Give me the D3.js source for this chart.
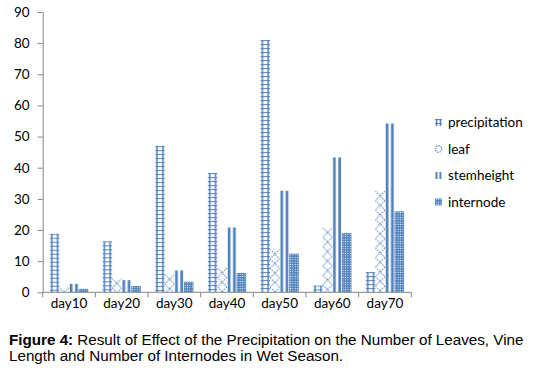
<!DOCTYPE html>
<html><head><meta charset="utf-8">
<script src="https://cdn.jsdelivr.net/npm/d3@7/dist/d3.min.js"></script>
<style>
body{margin:0;background:#fff;}
svg{display:block;}
</style></head>
<body>
<svg id="chart" width="537" height="371"></svg>
<script>
const categories = ["day10","day20","day30","day40","day50","day60","day70"];
const seriesNames = ["precipitation","leaf","stemheight","internode"];
const precipitation = [18.8, 16.4, 47.0, 38.3, 81.0, 2.2, 6.5];
const leaf = [1.5, 4.4, 5.7, 7.8, 13.8, 20.7, 32.5];
const stemheight = [2.7, 3.9, 7.0, 20.8, 32.6, 43.3, 54.2];
const internode = [1.1, 2.0, 3.4, 6.2, 12.4, 19.0, 26.0];
const yTicks = [0,10,20,30,40,50,60,70,80,90];

const values = [precipitation, leaf, stemheight, internode];
const blue = "#4F81BD";
const svg = d3.select("#chart");
const m = {left:42.7, right:411.3, top:12, bottom:292.3};
const x0 = d3.scaleBand().domain(categories).range([m.left, m.right]).paddingInner(0);
// Excel gap width 150%
const x1 = d3.scaleBand().domain(seriesNames).range([0, x0.bandwidth()]).paddingInner(0).paddingOuter(0.75);
const y = d3.scaleLinear().domain([0,90]).range([m.bottom, m.top]);
const w = x1.bandwidth();

const defs = svg.append("defs");
function makePatterns(suffix, bw){
  // precipitation: ladder
  let p = defs.append("pattern").attr("id","p0"+suffix).attr("patternUnits","userSpaceOnUse")
    .attr("width", bw).attr("height", 4);
  p.append("rect").attr("x",0).attr("y",0).attr("width",bw).attr("height",4).attr("fill","#fff");
  p.append("rect").attr("x",bw*0.12).attr("y",0).attr("width",1.5).attr("height",4).attr("fill",blue);
  p.append("rect").attr("x",bw*0.88-1.5).attr("y",0).attr("width",1.5).attr("height",4).attr("fill",blue);
  p.append("rect").attr("x",0).attr("y",0).attr("width",bw).attr("height",1.1).attr("fill",blue).attr("opacity",0.9);
  // leaf: dotted crosses
  p = defs.append("pattern").attr("id","p1"+suffix).attr("patternUnits","userSpaceOnUse")
    .attr("width", bw).attr("height", 9.5);
  p.append("rect").attr("width",bw).attr("height",9.5).attr("fill","#fff");
  p.append("path").attr("d",`M0,0L${bw},9.5M${bw},0L0,9.5`).attr("stroke","#5b8ac6")
    .attr("stroke-width",1).attr("stroke-dasharray","1.5,1").attr("fill","none");
  // stemheight: two wide stripes
  p = defs.append("pattern").attr("id","p2"+suffix).attr("patternUnits","userSpaceOnUse")
    .attr("width", bw).attr("height", 4);
  p.append("rect").attr("width",bw).attr("height",4).attr("fill","#fff");
  p.append("rect").attr("x",bw*0.08).attr("width",bw*0.28).attr("height",4).attr("fill",blue);
  p.append("rect").attr("x",bw*0.63).attr("width",bw*0.28).attr("height",4).attr("fill",blue);
  // internode: blue with white dots
  p = defs.append("pattern").attr("id","p3"+suffix).attr("patternUnits","userSpaceOnUse")
    .attr("width", 2.4).attr("height", 2.4);
  p.append("rect").attr("width",2.4).attr("height",2.4).attr("fill",blue);
  p.append("rect").attr("x",0.7).attr("y",0.7).attr("width",1).attr("height",1).attr("fill","#fff");
}
makePatterns("", w);
makePatterns("L", 7);

// bars
const groups = svg.append("g").selectAll("g.cat").data(categories).join("g")
  .attr("class","cat").attr("transform", d => `translate(${x0(d)},0)`);
seriesNames.forEach((s, si) => {
  groups.append("g")
    .attr("transform", (d,i) => `translate(${x1(s)},${y(values[si][i])})`)
    .append("rect")
    .attr("x",0).attr("y",0).attr("width", w)
    .attr("height", (d,i) => y(0) - y(values[si][i]))
    .attr("fill", `url(#p${si})`);
});

// y axis
const yAxis = d3.axisLeft(y).tickValues(yTicks).tickSize(5).tickSizeOuter(0).tickPadding(8);
const gy = svg.append("g").attr("transform",`translate(${m.left},0)`).call(yAxis);
gy.selectAll("path,line").attr("stroke","#868686");
gy.selectAll("text").attr("font-family","Lato, 'Open Sans', sans-serif").attr("font-size","13.5px").attr("fill","#000");

// x axis
const gx = svg.append("g");
gx.append("line").attr("x1",m.left).attr("x2",m.right).attr("y1",y(0)).attr("y2",y(0)).attr("stroke","#868686");
const bounds = categories.map(c => x0(c)).concat([x0(categories[categories.length-1]) + x0.bandwidth()]);
gx.selectAll("line.tk").data(bounds).join("line").attr("class","tk")
  .attr("x1",d=>d).attr("x2",d=>d).attr("y1",y(0)).attr("y2",y(0)+5).attr("stroke","#868686");
gx.selectAll("text").data(categories).join("text")
  .attr("x", d => x0(d) + x0.bandwidth()/2).attr("y", y(0)+16)
  .attr("text-anchor","middle").attr("font-family","Lato, 'Open Sans', sans-serif").attr("font-size","13.5px")
  .attr("fill","#000").text(d=>d);

// legend
const lg = svg.append("g").attr("transform","translate(435,0)");
const legY = [122.5, 149, 175.5, 202];
seriesNames.forEach((s, si) => {
  const g = lg.append("g").attr("transform",`translate(0,${legY[si]})`);
  if (si === 1) {
    g.append("circle").attr("cx",3.5).attr("cy",0).attr("r",3.3).attr("fill","none")
      .attr("stroke","#5b8ac6").attr("stroke-width",1.2).attr("stroke-dasharray","1.5,1");
  } else {
    g.append("g").attr("transform","translate(0,-3.5)").append("rect")
      .attr("width",7).attr("height",7).attr("fill",`url(#p${si}L)`);
  }
  g.append("text").attr("x",13).attr("y",4.5).attr("font-family","Lato, 'Open Sans', sans-serif")
    .attr("font-size","13.5px").attr("fill","#000").text(s);
});

// caption
const cap = svg.append("g").attr("font-family","'Liberation Sans', Arial, sans-serif").attr("font-size","15.2px").attr("fill","#000");
const t1 = cap.append("text").attr("x",9).attr("y",344.5);
t1.append("tspan").attr("font-weight","bold").text("Figure 4:");
t1.append("tspan").text(" Result of Effect of the Precipitation on the Number of Leaves, Vine");
cap.append("text").attr("x",9).attr("y",361).text("Length and Number of Internodes in Wet Season.");
</script>
</body></html>
